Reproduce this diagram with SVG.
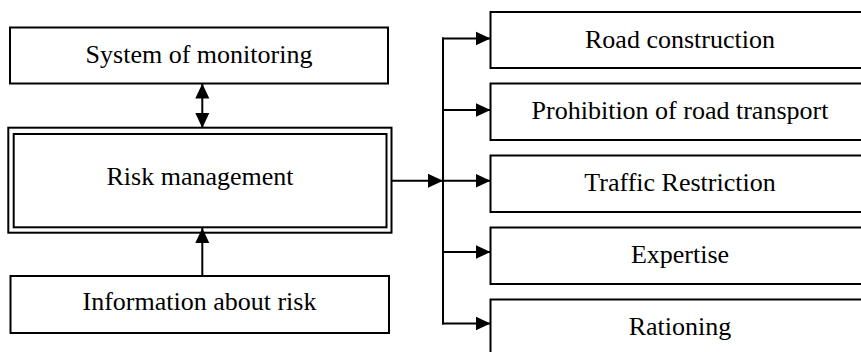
<svg xmlns="http://www.w3.org/2000/svg" width="861" height="352" viewBox="0 0 861 352">
<defs>
<marker id="ah" markerUnits="userSpaceOnUse" markerWidth="15" markerHeight="15" viewBox="0 0 15 14" refX="15" refY="7" orient="auto-start-reverse">
<path d="M0,0 L15,7 L0,14 z" fill="#000"/>
</marker>
<style>
.box{fill:#fff;stroke:#000;stroke-width:2}
.lbl{font-family:"Liberation Serif","Times New Roman",serif;font-size:26px;fill:#000;text-anchor:middle}
.con{fill:none;stroke:#000;stroke-width:2}
</style>
</defs>
<rect width="861" height="352" fill="#fff"/>
<g id="monitoring">
<rect class="box" x="10" y="27.5" width="378" height="56"/>
<text class="lbl" x="199" y="63">System of monitoring</text>
</g>
<g id="risk-management">
<rect class="box" x="8.3" y="127.7" width="383.2" height="105"/>
<rect class="box" x="13.7" y="134" width="372.8" height="93.3"/>
<text class="lbl" x="200" y="185">Risk management</text>
</g>
<g id="information">
<rect class="box" x="10.5" y="276" width="378.5" height="57"/>
<text class="lbl" x="199.5" y="310">Information about risk</text>
</g>
<g id="road-construction">
<rect class="box" x="490.5" y="12" width="380" height="56"/>
<text class="lbl" x="680" y="47.5">Road construction</text>
</g>
<g id="prohibition">
<rect class="box" x="490.5" y="83.5" width="380" height="56.5"/>
<text class="lbl" x="680" y="118.5">Prohibition of road transport</text>
</g>
<g id="traffic-restriction">
<rect class="box" x="490.5" y="155.5" width="380" height="56.5"/>
<text class="lbl" x="680" y="191">Traffic Restriction</text>
</g>
<g id="expertise">
<rect class="box" x="490.5" y="227.5" width="380" height="56.5"/>
<text class="lbl" x="680" y="263">Expertise</text>
</g>
<g id="rationing">
<rect class="box" x="490.5" y="299.5" width="380" height="60"/>
<text class="lbl" x="680" y="335">Rationing</text>
</g>
<g id="connectors">
<line class="con" x1="202.3" y1="83.5" x2="202.3" y2="128" marker-start="url(#ah)" marker-end="url(#ah)"/>
<line class="con" x1="202.3" y1="276" x2="202.3" y2="228" marker-end="url(#ah)"/>
<line class="con" x1="391.5" y1="180.7" x2="443" y2="180.7" marker-end="url(#ah)"/>
<line class="con" x1="443" y1="37.5" x2="443" y2="324.5"/>
<line class="con" x1="442" y1="38.5" x2="490.5" y2="38.5" marker-end="url(#ah)"/>
<line class="con" x1="443" y1="110" x2="490.5" y2="110" marker-end="url(#ah)"/>
<line class="con" x1="443" y1="180.7" x2="490.5" y2="180.7" marker-end="url(#ah)"/>
<line class="con" x1="443" y1="252" x2="490.5" y2="252" marker-end="url(#ah)"/>
<line class="con" x1="442" y1="323.5" x2="490.5" y2="323.5" marker-end="url(#ah)"/>
</g>
</svg>
